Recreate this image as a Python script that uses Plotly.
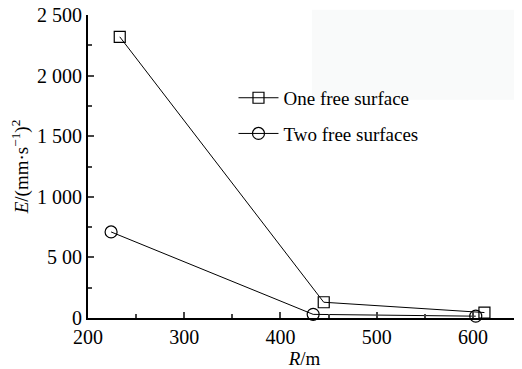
import plotly.graph_objects as go

# Data
r_one = [233, 445, 612]
e_one = [2320, 130, 45]
r_two = [224, 434, 603]
e_two = [710, 30, 15]

x_ticks = [200, 300, 400, 500, 600]
y_ticks = [0, 500, 1000, 1500, 2000, 2500]
y_ticktext = ["0", "5 00", "1 000", "1 500", "2 000", "2 500"]

FONT = "Liberation Serif"

fig = go.Figure()
fig.add_trace(go.Scatter(
    x=r_one, y=e_one, mode="lines+markers", name="One free surface",
    legendgroup="a",
    line=dict(color="black", width=1),
    marker=dict(symbol="square-open", size=11, color="black", line=dict(width=1.2)),
    cliponaxis=False,
))
fig.add_trace(go.Scatter(
    x=r_two, y=e_two, mode="lines+markers", name="Two free surfaces",
    legendgroup="b",
    line=dict(color="black", width=1),
    marker=dict(symbol="circle-open", size=12, color="black", line=dict(width=1.2)),
    cliponaxis=False,
))

# page body has an 8px margin, so the figure is sized to fit inside the window
fig.update_layout(
    width=514, height=361,
    margin=dict(l=80, r=1, t=7, b=51, autoexpand=False),
    paper_bgcolor="white", plot_bgcolor="white",
    font=dict(family=FONT, size=19, color="black"),
    showlegend=True,
    legend=dict(x=0.336, y=0.667, xanchor="left", yanchor="middle",
                bgcolor="rgba(0,0,0,0)", font=dict(size=19, family=FONT),
                tracegroupgap=8, itemwidth=40),
    shapes=[dict(type="rect", xref="paper", yref="paper", layer="below",
                 x0=0.517, x1=0.993, y0=0.72, y1=1.017,
                 fillcolor="rgb(249,250,250)", line=dict(width=0))],
)

fig.update_xaxes(
    range=[200, 650], tickvals=x_ticks, ticks="inside", ticklen=6, tickwidth=1.5,
    showline=True, linecolor="black", linewidth=2, showgrid=False, zeroline=False,
    minor=dict(dtick=50, tick0=0, ticks="inside", ticklen=4, tickwidth=1.5, showgrid=False),
    tickfont=dict(size=20, family=FONT), automargin=False, ticklabeloverflow="allow",
    title=dict(text="<i>R</i>/m", font=dict(size=19, family=FONT), standoff=4),
)
fig.update_yaxes(
    range=[0, 2500], tickvals=y_ticks, ticktext=y_ticktext,
    ticks="inside", ticklen=6, tickwidth=1.5,
    showline=True, linecolor="black", linewidth=2, showgrid=False, zeroline=False,
    minor=dict(dtick=250, tick0=0, ticks="inside", ticklen=4, tickwidth=1.5, showgrid=False),
    tickfont=dict(size=20, family=FONT), automargin=False, ticklabeloverflow="allow",
    title=dict(text="<i>E</i>/(mm·s<sup>−1</sup>)<sup>2</sup>", font=dict(size=19, family=FONT), standoff=4),
)

fig.write_html("out.html")
